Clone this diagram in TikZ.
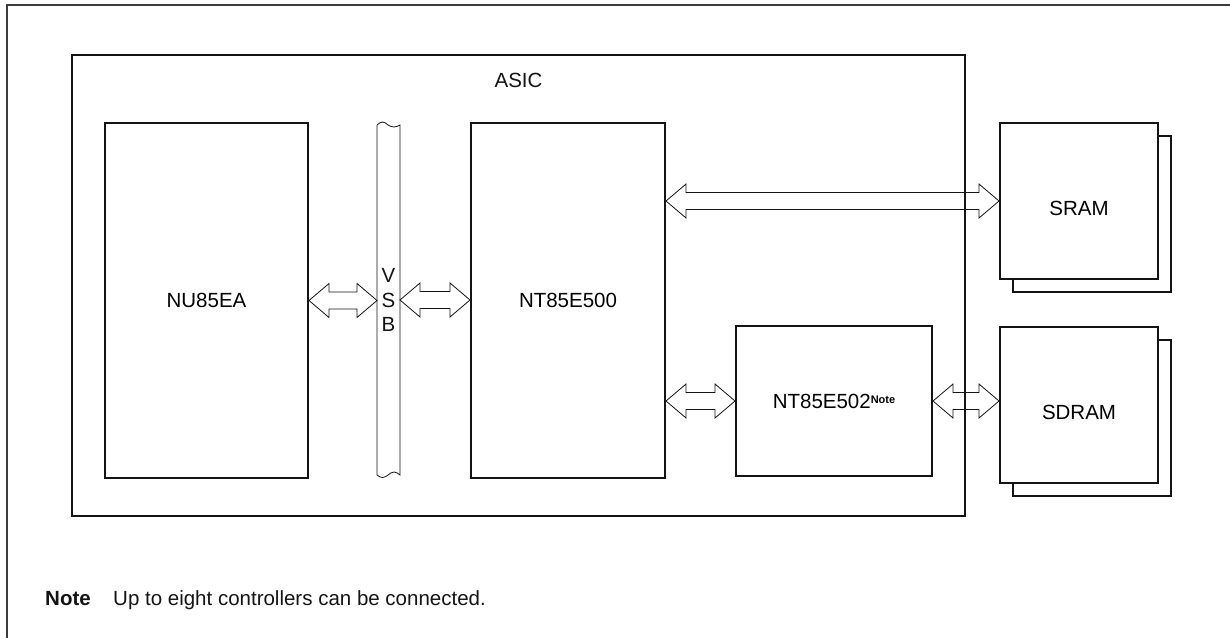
\documentclass[tikz,border=0pt]{standalone}
\usepackage{fontspec}
\setmainfont{Liberation Sans}
\usepackage{tikz}
\usetikzlibrary{positioning, calc, shadows}
\definecolor{myink}{RGB}{20,20,20}
\definecolor{myframe}{RGB}{60,60,60}
\tikzset{
  blk/.style={rectangle, draw=myink, fill=white, line width=2pt,
    inner sep=0pt, align=center, font=\fontsize{20.5}{24.5}\selectfont},
  memblk/.style={blk, minimum width=158pt, minimum height=156pt, text height=29pt,
    copy shadow={shadow xshift=13pt, shadow yshift=-13pt}},
  lbl/.style={font=\fontsize{20.5}{24.5}\selectfont, text=myink},
  notelbl/.style={lbl, inner sep=0pt, anchor=base west},
  busline/.style={line width=0.8pt, color=myink, line join=miter},
  frameline/.style={line width=1.6pt, color=myframe}
}
% hollow two-way bus arrow from #1 to #2
\newcommand{\busarrow}[2]{%
  \draw[busline] let \p1=(#1), \p2=(#2) in
    (\x1,\y1) -- ++(20pt,17pt) -- ++(0pt,-8.5pt) -- ({\x2-20pt},{\y1+8.5pt})
    -- ++(0pt,8.5pt) -- (\x2,\y1) -- ++(-20pt,-17pt) -- ++(0pt,8.5pt)
    -- ({\x1+20pt},{\y1-8.5pt}) -- ++(0pt,-8.5pt) -- cycle;}

\begin{document}
\begin{tikzpicture}[x=1pt, y=-1pt,
  chip/.style={blk, minimum width=#1},
  chip/.default=194pt]
  \useasboundingbox (0,0) rectangle (1230,637);

  % Frame
  \draw[frameline] (7,645) -- (7,5) -- (1240,5);

  % ASIC
  \node[blk, minimum width=893pt, minimum height=461pt] (asic) at (518.5,285.5) {};
  \node[lbl, below=16pt of asic.north] (asictxt) {ASIC};

  % Blocks
  \node[chip=203pt, minimum height=355pt] (nu) at (206.5,300.5) {NU85EA};
  \node[chip, minimum height=355pt] (nt500) at (568,300.5) {NT85E500};
  \node[chip=196pt, minimum height=150pt] (nt502) at (834,401)
    {NT85E502\raisebox{5pt}{\fontsize{11}{11}\selectfont\bfseries Note}};
  \node[memblk] (sram) at (1079,201) {SRAM};
  \node[memblk] (sdram) at (1079,405) {SDRAM};

  % VSB bus
  \node[lbl, minimum width=23pt, minimum height=350pt, inner sep=0pt, outer sep=0pt,
    align=center] (vsb) at (388.5,300) {V\\S\\B};
  \draw[busline] (vsb.north west) -- (vsb.south west)
    sin ++(5.5pt,-2.5pt) cos ++(5.5pt,2.5pt) sin ++(6pt,3pt) cos ++(6pt,-3pt)
    -- (vsb.north east)
    sin ++(-6pt,-2pt) cos ++(-6pt,2pt) sin ++(-5.5pt,3pt) cos ++(-5.5pt,-3pt);

  % Bus arrows
  \busarrow{nu.east}{vsb.west}
  \busarrow{vsb.east}{nt500.west}
  \busarrow{nt500.east |- sram.west}{sram.west}
  \busarrow{nt500.east |- nt502.west}{nt502.west}
  \busarrow{nt502.east}{sdram.west |- nt502.east}

  % Note
  \node[notelbl, font=\fontsize{20.5}{24.5}\selectfont\bfseries] (notehead) at (45,605) {Note};
  \node[notelbl] (notetxt) at (113,605) {Up to eight controllers can be connected.};
\end{tikzpicture}
\end{document}
